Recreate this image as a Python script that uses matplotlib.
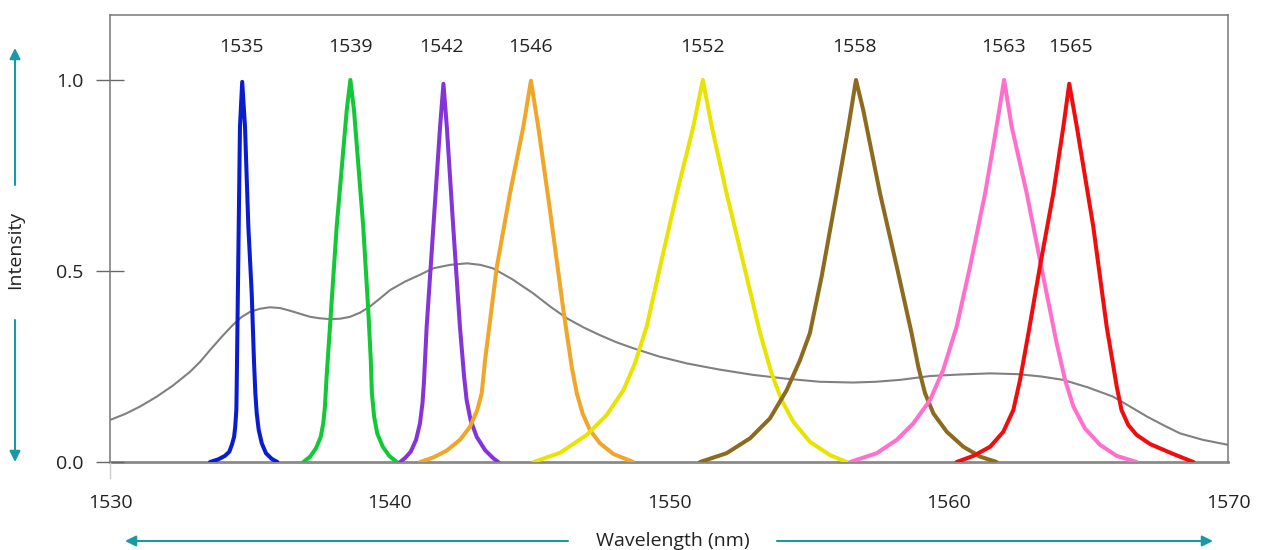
import numpy as np
import matplotlib
matplotlib.use("Agg")
import matplotlib.pyplot as plt
from matplotlib.lines import Line2D
from matplotlib.patches import FancyArrowPatch

plt.rcParams['font.family'] = ['Open Sans', 'DejaVu Sans']

# broadband source (grey)
src_x = [1530.00, 1530.55, 1531.07, 1531.65, 1532.25, 1532.86, 1533.22, 1533.58, 1534.00,
         1534.40, 1534.70, 1535.01, 1535.36, 1535.72, 1536.08, 1536.44, 1536.80, 1537.16,
         1537.52, 1537.87, 1538.23, 1538.59, 1538.95, 1539.30, 1539.66, 1540.02, 1540.55,
         1541.09, 1541.56, 1542.17, 1542.77, 1543.25, 1543.70, 1544.40, 1545.13, 1545.75,
         1546.35, 1546.95, 1547.53, 1548.10, 1548.71, 1549.65, 1550.64, 1551.80, 1553.01,
         1554.20, 1555.40, 1556.58, 1557.40, 1558.27, 1559.34, 1560.40, 1561.49, 1562.45,
         1563.30, 1564.10, 1565.00, 1565.89, 1566.50, 1567.10, 1567.70, 1568.28, 1569.10,
         1570.00]
src_y = [0.110, 0.126, 0.145, 0.170, 0.200, 0.236, 0.262, 0.293, 0.328,
         0.359, 0.379, 0.393, 0.401, 0.405, 0.403, 0.396, 0.388, 0.380,
         0.376, 0.374, 0.375, 0.380, 0.391, 0.407, 0.428, 0.450, 0.472,
         0.490, 0.507, 0.516, 0.520, 0.516, 0.507, 0.478, 0.442, 0.407,
         0.376, 0.352, 0.332, 0.314, 0.298, 0.276, 0.258, 0.242, 0.228,
         0.218, 0.210, 0.208, 0.210, 0.215, 0.225, 0.229, 0.232, 0.230,
         0.224, 0.215, 0.195, 0.171, 0.145, 0.119, 0.096, 0.075, 0.058,
         0.045]

# laser lines
l1535_x = [1533.58, 1533.875, 1534.11, 1534.27, 1534.36, 1534.44, 1534.48, 1534.52, 1534.53,
           1534.59, 1534.65, 1534.73, 1534.83, 1534.95, 1535.07, 1535.15, 1535.20, 1535.25,
           1535.32, 1535.43, 1535.58, 1535.79, 1535.99]
l1535_y = [0.0, 0.007, 0.016, 0.027, 0.045, 0.066, 0.092, 0.136, 0.180,
           0.529, 0.878, 0.995, 0.878, 0.616, 0.442, 0.267, 0.180, 0.127,
           0.084, 0.049, 0.023, 0.008, 0.0]

l1539_x = [1536.92, 1537.16, 1537.37, 1537.54, 1537.63, 1537.69, 1537.75, 1537.87, 1538.11,
           1538.47, 1538.60, 1538.73, 1539.06, 1539.24, 1539.33, 1539.37, 1539.45, 1539.56,
           1539.76, 1539.99, 1540.26]
l1539_y = [0.0, 0.014, 0.036, 0.066, 0.101, 0.145, 0.223, 0.354, 0.616,
           0.921, 1.0, 0.921, 0.616, 0.398, 0.267, 0.180, 0.119, 0.075,
           0.040, 0.016, 0.0]

l1542_x = [1540.38, 1540.55, 1540.76, 1540.95, 1541.09, 1541.18, 1541.23, 1541.33, 1541.57,
           1541.81, 1541.93, 1542.05, 1542.28, 1542.52, 1542.67, 1542.76, 1542.90, 1543.12,
           1543.42, 1543.71, 1543.89]
l1542_y = [0.0, 0.010, 0.027, 0.058, 0.101, 0.154, 0.206, 0.354, 0.616,
           0.878, 0.99, 0.878, 0.616, 0.354, 0.223, 0.162, 0.110, 0.066,
           0.031, 0.010, 0.0]

l1546_x = [1541.09, 1541.57, 1542.05, 1542.52, 1542.88, 1543.14, 1543.30, 1543.42, 1543.84,
           1544.31, 1544.79, 1545.06, 1545.32, 1545.74, 1546.22, 1546.52, 1546.70, 1546.91,
           1547.17, 1547.53, 1548.01, 1548.72]
l1546_y = [0.0, 0.012, 0.030, 0.058, 0.092, 0.136, 0.180, 0.267, 0.511,
           0.703, 0.878, 0.998, 0.878, 0.660, 0.398, 0.249, 0.180, 0.127,
           0.084, 0.049, 0.021, 0.0]

l1552_x = [1545.15, 1546.10, 1547.06, 1547.77, 1548.37, 1548.78, 1549.20, 1549.68, 1550.28,
           1550.87, 1551.21, 1551.53, 1552.06, 1552.78, 1553.26, 1553.67, 1554.03, 1554.45,
           1555.04, 1555.76, 1556.36]
l1552_y = [0.0, 0.024, 0.071, 0.123, 0.188, 0.258, 0.354, 0.511, 0.703,
           0.878, 1.0, 0.878, 0.703, 0.485, 0.337, 0.232, 0.162, 0.105,
           0.053, 0.018, 0.0]

l1558_x = [1551.11, 1552.06, 1552.90, 1553.61, 1554.21, 1554.69, 1555.04, 1555.46, 1556.00,
           1556.42, 1556.69, 1556.95, 1557.55, 1558.15, 1558.68, 1558.92, 1559.16, 1559.46,
           1559.94, 1560.53, 1561.13, 1561.72]
l1558_y = [0.0, 0.023, 0.062, 0.114, 0.188, 0.267, 0.337, 0.485, 0.703,
           0.878, 1.0, 0.921, 0.703, 0.511, 0.337, 0.249, 0.180, 0.127,
           0.079, 0.040, 0.014, 0.0]

l1563_x = [1556.48, 1557.43, 1558.15, 1558.74, 1559.34, 1559.81, 1560.29, 1560.77, 1561.31,
           1561.72, 1561.99, 1562.26, 1562.80, 1563.39, 1563.87, 1564.17, 1564.47, 1564.88,
           1565.42, 1566.02, 1566.73]
l1563_y = [0.0, 0.023, 0.058, 0.101, 0.162, 0.241, 0.354, 0.511, 0.703,
           0.878, 1.0, 0.878, 0.703, 0.485, 0.311, 0.215, 0.145, 0.088,
           0.045, 0.016, 0.0]

l1565_x = [1560.29, 1560.89, 1561.49, 1561.96, 1562.32, 1562.56, 1562.86, 1563.27, 1563.75,
           1564.11, 1564.32, 1564.59, 1565.18, 1565.66, 1566.02, 1566.19, 1566.43, 1566.73,
           1567.21, 1568.04, 1568.76]
l1565_y = [0.0, 0.016, 0.040, 0.079, 0.136, 0.215, 0.337, 0.511, 0.703,
           0.878, 0.99, 0.878, 0.616, 0.354, 0.197, 0.136, 0.097, 0.071,
           0.047, 0.021, 0.0]

peak_labels = ['1535', '1539', '1542', '1546', '1552', '1558', '1563', '1565']
peak_label_x = [1534.72, 1538.59, 1541.85, 1545.06, 1551.21, 1556.63, 1561.96, 1564.36]
colors = ['#0a1ccf', '#12c935', '#8434d9', '#f0a628', '#e8e400', '#8c6a1e', '#ff6fcb', '#f00d0d']

lines_x = [l1535_x, l1539_x, l1542_x, l1546_x, l1552_x, l1558_x, l1563_x, l1565_x]
lines_y = [l1535_y, l1539_y, l1542_y, l1546_y, l1552_y, l1558_y, l1563_y, l1565_y]

fig = plt.figure(figsize=(12.63, 5.5), dpi=100)
ax = fig.add_axes([110 / 1263, 88 / 550, 1118 / 1263, 447 / 550])

ax.plot(src_x, src_y, color='#808080', lw=1.5, zorder=2)
for xs, ys, c in zip(lines_x, lines_y, colors):
    ax.plot(xs, ys, color=c, lw=2.9, solid_joinstyle='round', solid_capstyle='round', zorder=3)

for lab, lx in zip(peak_labels, peak_label_x):
    ax.text(lx, 1.087, lab, ha='center', va='center', fontsize=14, color='#222222')

ax.set_xlim(1530, 1570)
ax.set_ylim(0, 1.17)
ax.set_xticks([1530, 1540, 1550, 1560, 1570])
ax.set_yticks([0.0, 0.5, 1.0])
ax.set_yticklabels(['0.0', '0.5', '1.0'])
ax.tick_params(axis='x', length=0, pad=23, labelsize=14, labelcolor='#222222')
ax.tick_params(axis='y', direction='inout', length=20, width=1, color='#666666',
               pad=9, labelsize=14, labelcolor='#222222')

for side in ['top', 'right', 'left']:
    ax.spines[side].set_color('#777777')
    ax.spines[side].set_linewidth(1.1)
ax.spines['bottom'].set_color('#8a8a8a')
ax.spines['bottom'].set_linewidth(2.0)
ax.spines['bottom'].set_zorder(1)

# short light extension of the y axis below the baseline
ax.add_line(Line2D([0, 0], [-0.036, 0], transform=ax.transAxes, color='#cccccc',
                   lw=1, clip_on=False))

teal = '#179aa6'
arr = dict(arrowstyle='-|>', color=teal, lw=1.5, mutation_scale=16, shrinkA=0, shrinkB=0)
fig.add_artist(FancyArrowPatch((15, 550 - 185), (15, 550 - 48), transform=None, **arr))
fig.add_artist(FancyArrowPatch((15, 550 - 320), (15, 550 - 462), transform=None, **arr))
fig.add_artist(FancyArrowPatch((568, 9), (125, 9), transform=None, **arr))
fig.add_artist(FancyArrowPatch((777, 9), (1213, 9), transform=None, **arr))

fig.text(15 / 1263, (550 - 250) / 550, 'Intensity', rotation=90, ha='center', va='center',
         fontsize=14, color='#222222')
fig.text(673 / 1263, 9 / 550, 'Wavelength (nm)', ha='center', va='center',
         fontsize=14, color='#222222')

fig.savefig('out.png', dpi=100)
